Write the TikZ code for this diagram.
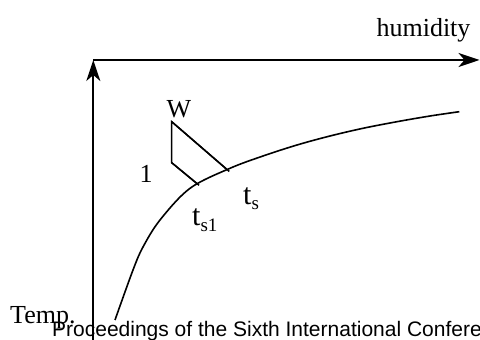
\documentclass[tikz,border=0pt]{standalone}
\usepackage{fontspec}
\setmainfont{Liberation Serif}
\newfontfamily\procfont{Liberation Sans}
\usetikzlibrary{arrows.meta}
\begin{document}
\begin{tikzpicture}[x=1pt,y=1pt,
  axis/.style={line width=1.8pt,-{Stealth[length=21pt,width=14pt,inset=6pt]}},
  curveline/.style={line width=1.6pt},
  tri/.style={line width=1.5pt},
  lbl/.style={inner sep=0pt,anchor=base west,font=\fontsize{26}{30}\selectfont},
  tlbl/.style={inner sep=0pt,anchor=base west,font=\fontsize{30}{34}\selectfont}]
\useasboundingbox (0,0) rectangle (480,340);
% axes
\coordinate (ybot) at (93.3,0);
\coordinate (ytop) at (93.3,280);
\coordinate (xl) at (93.3,280);
\coordinate (xr) at (479.5,280);
\draw[axis] (ybot) -- (ytop);
\draw[axis] (xl) -- (xr);
% curve
\draw[curveline] plot[smooth,tension=0.55] coordinates {(115,20) (133,70) (143,93) (160,120) (190,151.7) (230,171.7) (263,184) (297,195) (330,204) (363,211.7) (397,218.3) (430,224) (459.3,228.3)};
% triangle
\coordinate (W) at (171.7,218.3);
\coordinate (C) at (171.7,177.3);
\coordinate (P1) at (197.5,156);
\coordinate (P2) at (227,170.5);
\draw[tri,line join=miter] (P1) -- (C) -- (W) -- (P2);
\draw[tri,shorten <=-3pt] (P2) -- (W);
\draw[tri,shorten <=-2pt] (P1) -- (C);
% labels
\node[lbl,anchor=base] (hum) at (423.5,303.3) {humidity};
\node[lbl,anchor=base] (wl) at (179,222) {W};
\node[lbl,anchor=base] (one) at (146,157) {1};
\node[tlbl] (ts1) at (192,114) {t\raisebox{-6pt}{\fontsize{19}{19}\selectfont s1}};
\node[tlbl] (ts) at (243,135) {t\raisebox{-5pt}{\fontsize{19}{19}\selectfont s}};
\node[lbl] (temp) at (10,16) {Temp.};
\node[inner sep=0pt,anchor=base west,font=\procfont\fontsize{21}{24}\selectfont] (proc) at (52,3) {Proceedings of the Sixth International Confere};
\end{tikzpicture}
\end{document}
